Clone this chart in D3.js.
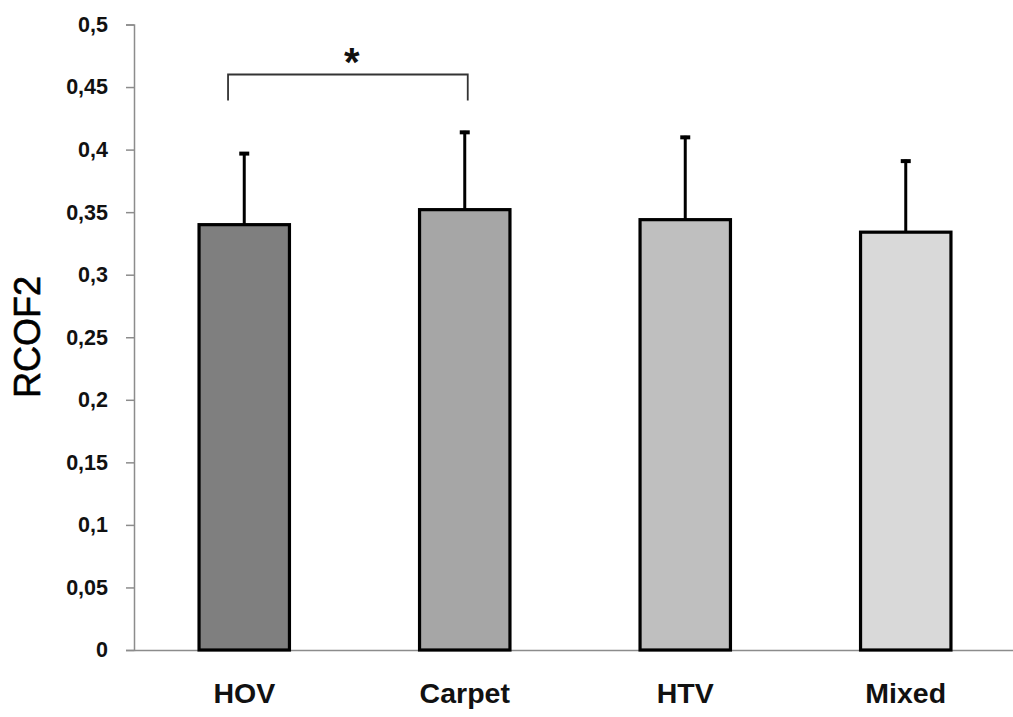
<!DOCTYPE html>
<html>
<head>
<meta charset="utf-8">
<script src="https://cdn.jsdelivr.net/npm/d3@7"></script>
<style>
  html, body { margin: 0; padding: 0; background: #fff; }
  svg { display: block; }
</style>
</head>
<body>
<svg id="chart" width="1013" height="717"></svg>
<script>
const categories = ["HOV", "Carpet", "HTV", "Mixed"];
const means = [0.340, 0.352, 0.344, 0.334];
const errors = [0.058, 0.063, 0.067, 0.058];
const fills = ["#7f7f7f", "#a6a6a6", "#bfbfbf", "#d9d9d9"];
const yTicks = [0, 0.05, 0.1, 0.15, 0.2, 0.25, 0.3, 0.35, 0.4, 0.45, 0.5];
const yLabel = "RCOF2";
const sigPair = ["HOV", "Carpet"];
const sigLabel = "*";

(function () {
const svg = d3.select("#chart");
const mLeft = 134, mRight = 1016, mTop = 24.5, mBottom = 650;

const x = d3.scaleBand().domain(categories).range([mLeft, mRight]).paddingInner(0.59).paddingOuter(0.295);
const y = d3.scaleLinear().domain([0, 0.5]).range([mBottom, mTop]);

// Y axis
const yAxis = d3.axisLeft(y).tickValues(yTicks).tickSize(8).tickPadding(18)
  .tickFormat(d => d3.format("")(d).replace(".", ","));
const gy = svg.append("g").attr("transform", `translate(${mLeft},0)`).call(yAxis);
gy.select(".domain").attr("stroke", "#8c8c8c").attr("stroke-width", 1.5);
gy.selectAll(".tick line").attr("stroke", "#8c8c8c").attr("stroke-width", 1.5);
gy.selectAll(".tick text").attr("font-family", "Liberation Sans, Arial, sans-serif")
  .attr("font-weight", "bold").attr("font-size", 21.5).attr("fill", "#111");

// X axis
const xAxis = d3.axisBottom(x).tickSize(0).tickPadding(33);
const gx = svg.append("g").attr("transform", `translate(0,${mBottom})`).call(xAxis);
gx.select(".domain").attr("stroke", "#8c8c8c").attr("stroke-width", 1.5);
gx.selectAll(".tick text").attr("font-family", "Liberation Sans, Arial, sans-serif")
  .attr("font-weight", "bold").attr("font-size", 28.5).attr("fill", "#111");

// Error bars (drawn under bars)
const eg = svg.append("g");
categories.forEach((c, i) => {
  const cx = x(c) + x.bandwidth() / 2;
  eg.append("line").attr("x1", cx).attr("x2", cx)
    .attr("y1", y(means[i])).attr("y2", y(means[i] + errors[i]))
    .attr("stroke", "#000").attr("stroke-width", 3);
  eg.append("line").attr("x1", cx - 5).attr("x2", cx + 5)
    .attr("y1", y(means[i] + errors[i]) + 1.5).attr("y2", y(means[i] + errors[i]) + 1.5)
    .attr("stroke", "#000").attr("stroke-width", 4);
});

// Bars
svg.append("g").selectAll("rect").data(categories).join("rect")
  .attr("x", d => x(d))
  .attr("y", (d, i) => y(means[i]))
  .attr("width", x.bandwidth())
  .attr("height", (d, i) => mBottom - y(means[i]))
  .attr("fill", (d, i) => fills[i])
  .attr("stroke", "#000").attr("stroke-width", 3.2);

// Significance bracket
const bx1 = x(sigPair[0]) + 29, bx2 = x(sigPair[1]) + x.bandwidth() / 2 + 3;
const bTop = 74.5, bBot = 100.5;
svg.append("path")
  .attr("d", `M${bx1},${bBot}V${bTop}H${bx2}V${bBot}`)
  .attr("fill", "none").attr("stroke", "#333").attr("stroke-width", 1.8);
svg.append("text").attr("x", (bx1 + bx2) / 2 + 4).attr("y", 76)
  .attr("text-anchor", "middle")
  .attr("font-family", "Liberation Sans, Arial, sans-serif")
  .attr("font-weight", "bold").attr("font-size", 40).attr("fill", "#111")
  .text(sigLabel);

// Y label
svg.append("text")
  .attr("transform", `translate(40,337) rotate(-90)`)
  .attr("text-anchor", "middle")
  .attr("font-family", "Liberation Sans, Arial, sans-serif")
  .attr("font-size", 36).attr("fill", "#000")
  .attr("stroke", "#000").attr("stroke-width", 0.6)
  .text(yLabel);
})();
</script>
</body>
</html>
